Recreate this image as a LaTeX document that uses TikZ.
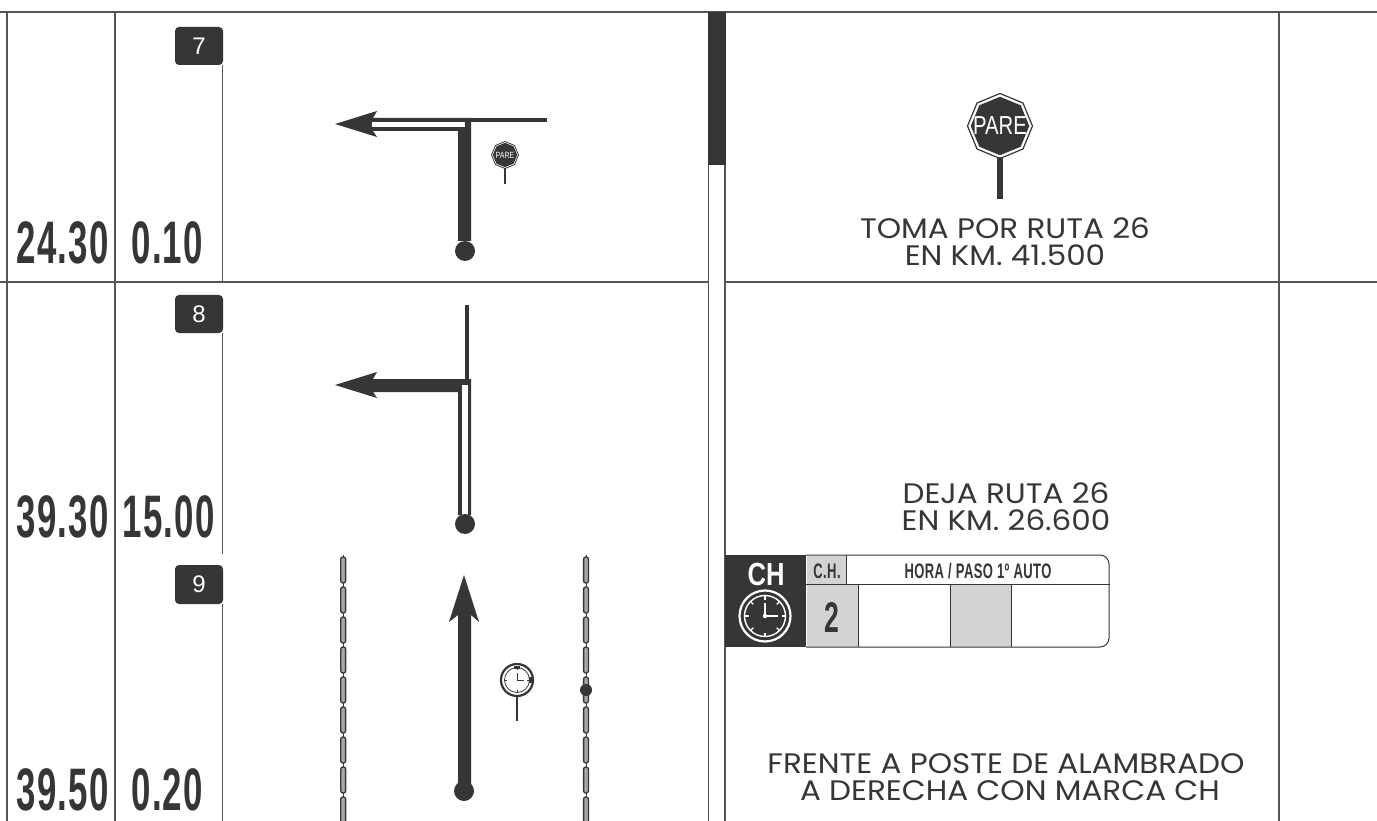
\documentclass[tikz,border=0pt]{standalone}
\usepackage{fontspec}
\usetikzlibrary{shapes.geometric}
\setmainfont{Poppins}
\newfontfamily\lblf[FakeStretch=1.1]{Poppins}
\newfontfamily\condf[FakeStretch=0.58,LetterSpace=2]{Liberation Sans Bold}
\newfontfamily\headf[FakeStretch=0.62,LetterSpace=2]{Liberation Sans Bold}
\newfontfamily\midf[FakeStretch=0.8]{Liberation Sans Bold}
\newfontfamily\paref[FakeStretch=0.78]{Liberation Sans}
\newfontfamily\arialf{Liberation Sans}
\definecolor{ink}{HTML}{373535}
\definecolor{rule}{HTML}{555555}
\definecolor{cellgray}{HTML}{D1D3D4}
\tikzset{
  x=1pt,y=-1pt,
  grid/.style={draw=rule,line width=1.2pt},
  km/.style={inner sep=0,text=ink,font=\condf\fontsize{60}{60}\selectfont},
  badge/.style={inner sep=0,text=white,font=\arialf\fontsize{24}{24}\selectfont},
  lbl/.style={inner sep=0,text=ink,font=\lblf\fontsize{28.2}{28.2}\selectfont},
  head/.style={inner sep=0,text=ink,font=\headf\fontsize{21}{21}\selectfont},
  pill/.style={draw=ink,fill=gray!70,line width=1.3pt,rounded corners=2pt},
  tbl/.style={draw=ink,line width=1pt},
}
\newcommand{\badgebox}[4]{%
  \fill[ink,rounded corners=4pt] (175,#1) -- (223,#1) -- (223,#2) -- (175,#2) -- cycle;
  \node[badge] (#4) at (199,{(#1+#2)/2}) {#3};}
\newcommand{\octa}[6]{%
  \node[regular polygon,regular polygon sides=8,shape border rotate=22.5,inner sep=0,draw=ink,line width=#5,fill=white,minimum size=#4] (#1o) at (#2,#3) {};
  \node[regular polygon,regular polygon sides=8,shape border rotate=22.5,inner sep=0,fill=ink,minimum size=#4*0.9] (#1i) at (#2,#3) {};
  \node[inner sep=0,text=white,font=\paref\fontsize{#6}{#6}\selectfont] (#1t) at (#2,#3) {PARE};}
\begin{document}
\begin{tikzpicture}
\useasboundingbox (0,0) rectangle (1377,821);
\fill[white] (0,0) rectangle (1377,821);
% --- rules
\draw[grid] (0,12) -- (1377,12);
\draw[grid] (0,282) -- (708,282);
\draw[grid] (725,282) -- (1377,282);
\draw[grid] (7,12) -- (7,821);
\draw[grid] (115,12) -- (115,821);
\draw[grid] (222.5,65) -- (222.5,282);
\draw[grid] (222.5,333) -- (222.5,554);
\draw[grid] (222.5,604) -- (222.5,821);
\draw[grid] (708.5,165) -- (708.5,821);
\draw[grid] (725,165) -- (725,821);
\draw[grid] (1279,12) -- (1279,821);
\fill[ink] (708,12) rectangle (726,165);
% --- badges
\badgebox{27}{65}{7}{b7}
\badgebox{295}{333}{8}{b8}
\badgebox{565}{604}{9}{b9}
% --- km
\node[km,anchor=base east] (a1) at (109,264) {24.30};
\node[km,anchor=base east] (p1) at (203,264) {0.10};
\node[km,anchor=base east] (a2) at (109,537) {39.30};
\node[km,anchor=base east] (p2) at (215,537) {15.00};
\node[km,anchor=base east] (a3) at (109,810) {39.50};
\node[km,anchor=base east] (p3) at (203,810) {0.20};
% --- arrow 1
\draw[ink,line width=4pt] (465,120) -- (547,120);
\fill[ink] (335,124) -- (377,111) -- (373,118) -- (471,118) -- (471,241) -- (458,241) -- (458,131) -- (373,131) -- (377,137) -- cycle;
\fill[ink] (465,251) circle (10);
\fill[white] (372,122) rectangle (465,127);
\octa{s1}{505}{155}{27}{0.8pt}{9}
\draw[ink,line width=2pt] (505,168) -- (505,184);
% --- arrow 2
\draw[ink,line width=4pt] (467,305) -- (467,380);
\fill[ink] (335,385) -- (377,372) -- (373,379) -- (471,379) -- (471,515) -- (458,515) -- (458,392) -- (373,392) -- (377,398) -- cycle;
\fill[white] (462,385) rectangle (468,518);
\fill[ink] (465,524) circle (10);
% --- arrow 3
\fill[ink] (464,575) -- (479,622) -- (471,615) -- (471,785) -- (458,785) -- (458,615) -- (449,622) -- cycle;
\fill[ink] (464,791) circle (10);
\foreach \x in {343.2,586}{
  \draw[ink,line width=0.6pt] (\x,555) -- (\x,821);
  \foreach \k in {0,...,8}{
    \draw[pill] (\x-2.4,{557+30*\k}) rectangle (\x+2.4,{583+30*\k});
  }
}
\fill[ink] (586,690) circle (6);
% --- small clock
\draw[ink,line width=2.2pt] (517,680) circle (16);
\draw[ink,line width=0.8pt] (517,680) circle (12.5);
\draw[ink,line width=0.9pt] (517,673) -- (517,680) -- (524,680);
\foreach \a in {0,90,180,270}{\draw[ink,line width=0.8pt] (517,680) ++(\a:12.5) -- ++(\a+180:2.5);}
\fill[ink] (514,666) rectangle (520,669);
\fill[ink] (529,677) rectangle (532,683);
\draw[ink,line width=2pt] (517,697) -- (517,721);
% --- big sign
\octa{s2}{1000}{126}{65}{1.2pt}{26}
\fill[ink] (997,157) rectangle (1003,199);
% --- labels
\node[lbl] (t1) at (1005,228) {TOMA POR RUTA 26};
\node[lbl] (t2) at (1005,255) {EN KM. 41.500};
\node[lbl] (t3) at (1006,493) {DEJA RUTA 26};
\node[lbl] (t4) at (1006,520) {EN KM. 26.600};
\node[lbl] (t5) at (1006,764) {FRENTE A POSTE DE ALAMBRADO};
\node[lbl] (t6) at (1010,791) {A DERECHA CON MARCA CH};
% --- control table
\fill[ink] (725,555) rectangle (806,647);
\fill[cellgray] (807,556) rectangle (846,584);
\fill[cellgray] (807,585) rectangle (858,647);
\fill[cellgray] (950,585) rectangle (1011,647);
\draw[tbl,rounded corners=9pt] (806,555) -- (1109,555) -- (1109,647) -- (806,647);
\draw[tbl] (806,584.5) -- (1110,584.5);
\draw[tbl] (846,555) -- (846,584.5);
\draw[tbl] (858.5,584.5) -- (858.5,647);
\draw[tbl] (950,584.5) -- (950,647);
\draw[tbl] (1011.5,584.5) -- (1011.5,647);
\node[inner sep=0,text=white,font=\midf\fontsize{32}{32}\selectfont] (ch) at (766,574) {CH};
\node[head] (chh) at (827,571) {C.H.};
\node[head] (hora) at (978,571) {HORA / PASO 1º AUTO};
\node[inner sep=0,text=ink,font=\headf\fontsize{43}{43}\selectfont] (two) at (832,617) {2};
% clock icon
\draw[white,line width=2.2pt] (765,616) circle (25.5);
\draw[white,line width=1.4pt] (765,616) circle (20.5);
\foreach \a in {0,45,...,315}{
  \draw[white,line width=1.4pt] (765,616) ++(\a:20) -- ++(\a+180:3.5);
}
\draw[white,line width=1.6pt] (765,603) -- (765,616) -- (778,616);
\fill[white] (765,616) circle (2.2);
\end{tikzpicture}
\end{document}
